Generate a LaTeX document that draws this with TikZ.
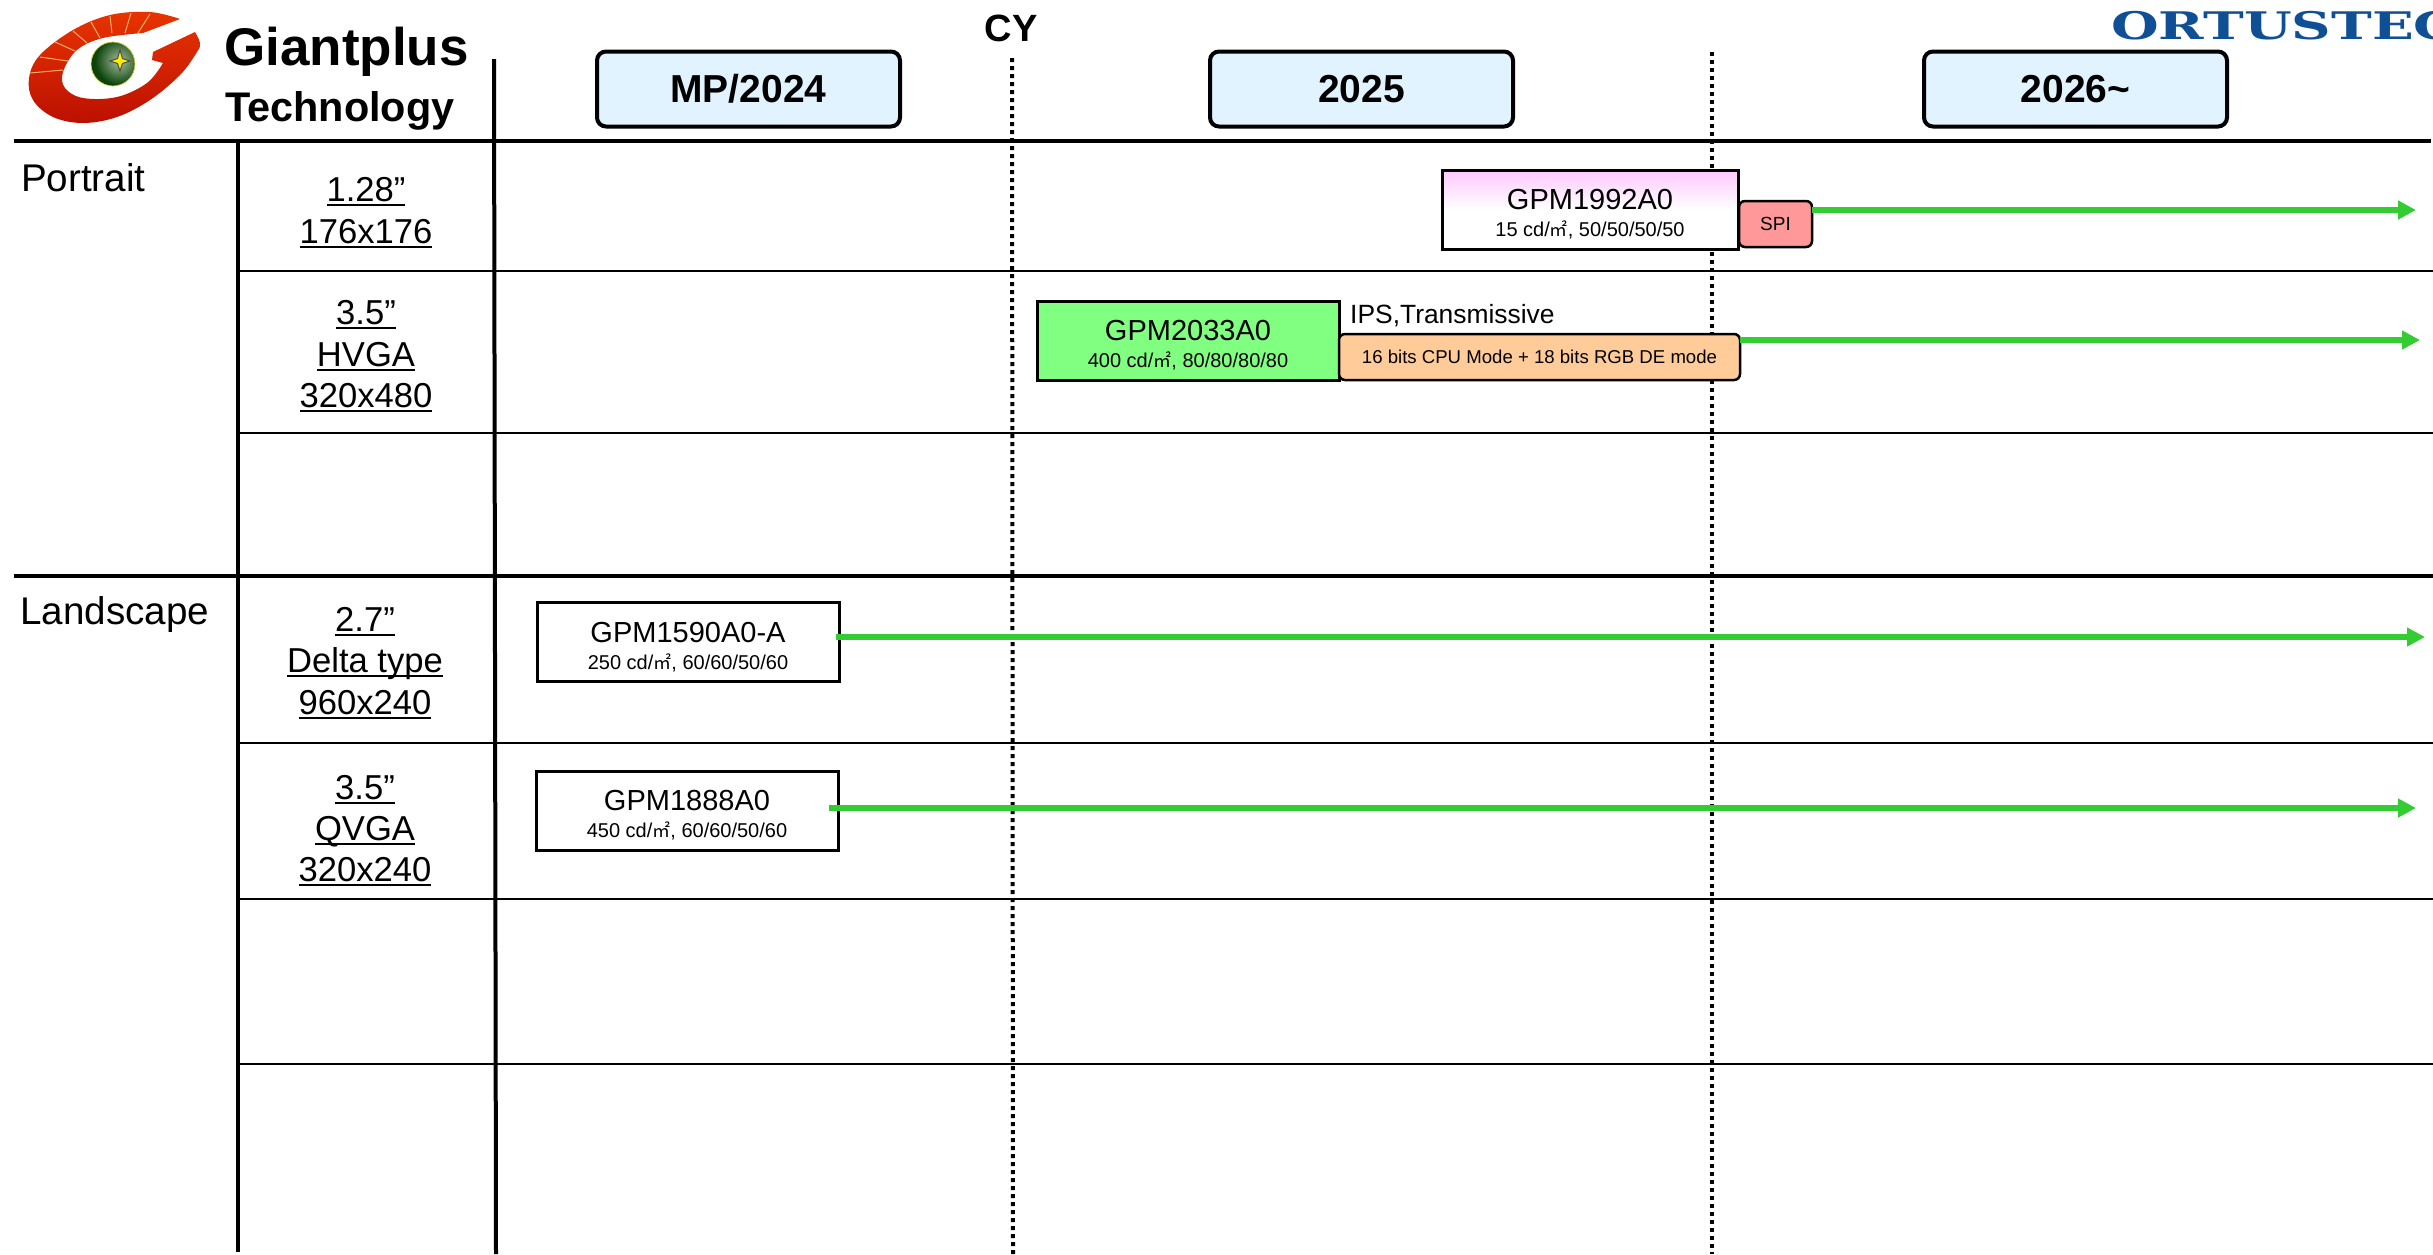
\documentclass[tikz,border=0pt]{standalone}
\usepackage{fontspec}
\setmainfont{Liberation Sans}
\newfontfamily\cjkf{Noto Sans CJK SC}
\newfontfamily\logofont{DejaVu Serif}
\usetikzlibrary{arrows.meta,calc}
\definecolor{hdrfill}{HTML}{E1F3FF}
\definecolor{grn}{HTML}{33CC33}
\definecolor{pinktop}{HTML}{FFC8FF}
\definecolor{grnfill}{HTML}{80FF80}
\definecolor{spifill}{HTML}{FF9999}
\definecolor{orgfill}{HTML}{FFCC99}
\definecolor{ortblue}{HTML}{0F4F96}
\definecolor{logolight}{HTML}{E83400}
\definecolor{logodark}{HTML}{BC1000}
\definecolor{rayc}{HTML}{FFB070}
\definecolor{ballin}{HTML}{A8BCA0}
\definecolor{ballout}{HTML}{0A440A}
\newcommand\fs[1]{\fontsize{#1}{#1}\selectfont}
\newcommand\ulx[1]{\setbox0=\hbox{#1}\hbox{\copy0\kern-\wd0\rule[-5pt]{\wd0}{1.8pt}}}
\newcommand\sqm{{\cjkf\fontsize{18}{18}\selectfont ㎡}}
\newcommand\prodtxt[2]{\rule{0pt}{30pt}{\fontsize{29}{27}\selectfont #1}\\{\fontsize{20}{27}\selectfont #2}}
\tikzset{
  hdrbox/.style={draw=black,line width=4pt,fill=hdrfill,rounded corners=9pt,minimum width=303pt,minimum height=75pt,inner sep=0pt,outer sep=0pt,font=\bfseries\fs{39}},
  prodbox/.style={draw=black,line width=3pt,align=center,minimum width=302pt,minimum height=79pt,inner sep=0pt,outer sep=0pt,font=\fontsize{20}{27}\selectfont},
  tagbox/.style={draw=black,line width=2.5pt,rounded corners=6pt,inner sep=0pt,outer sep=0pt},
  thick rule/.style={line width=4pt,black},
  thin rule/.style={line width=2.8pt,black},
  cy rule/.style={line width=4pt,black,dash pattern=on 4pt off 4pt},
  roadmap/.style={line width=6pt,grn,-{Triangle[length=18pt,width=18pt]}},
  celltxt/.style={anchor=base,inner sep=0pt,font=\fs{34.6}},
  sidetxt/.style={anchor=base west,inner sep=0pt,font=\fs{38.6}},
}
\begin{document}
\begin{tikzpicture}[x=1pt,y=-1pt]
\useasboundingbox (0,0) rectangle (2433,1254);
% grid
\draw[thick rule] (14,141) -- (2431,141);
\draw[thick rule] (14,576) -- (2433,576);
\foreach \yy in {271,433,743,899,1064}{\draw[thin rule] (236,\yy) -- (2433,\yy);}
\draw[thick rule] (238,141) -- (238,1252);
\draw[thick rule] (494,59) -- (496,1254);
% CY dotted lines
\coordinate (cya) at (1012,58);
\coordinate (cyb) at (1013,1254);
\coordinate (cyc) at (1712,52);
\coordinate (cyd) at (1712,1254);
\draw[cy rule] (cya) -- (cyb);
\draw[cy rule] (cyc) -- (cyd);
\node[anchor=base,inner sep=0pt,font=\bfseries\fs{38}] (cy) at (1011,41) {CY};
% logo
\shade[top color=logolight,bottom color=logodark]
  plot[smooth,tension=.6] coordinates {(180,19) (150,12) (110,15) (73,30) (40,55) (29,78) (33,100) (53,117) (83,123) (117,117) (150,100) (180,75) (197,52) (200,43) (195,32)}
  -- (153,52) -- (152,60) -- (163,63)
  -- plot[smooth,tension=.6] coordinates {(163,63) (147,83) (117,97) (83,98) (65,88) (63,72) (77,50) (103,38) (143,33)}
  -- cycle;
\foreach \xa/\ya/\xb/\yb in {30/73/63/70,40/57/68/61,55/42/75/51,73/31/87/43,91/22/100/38,110/16/112/33,131/13/125/33,150/14/138/33}
  {\draw[rayc,line width=1pt] (\xa,\ya) -- (\xb,\yb);}
\fill[ballout] (113,64) circle (22);
\begin{scope}
\clip (113,64) circle (22);
\shade[inner color=ballin,outer color=ballout] (119,61) circle (24);
\end{scope}
\draw[yellow!70!gray,line width=.7pt] (113,64) circle (22);
\draw[fill=yellow!95!orange,draw=black!70,line width=1pt] (120,50) -- (122.5,58.5) -- (130,61) -- (122.5,63.5) -- (120,71) -- (117.5,63.5) -- (110,61) -- (117.5,58.5) -- cycle;
\node[anchor=base west,inner sep=0pt,font=\bfseries\fs{53}] (gp) at (224,65) {Giantplus};
\node[anchor=base west,inner sep=0pt,font=\bfseries\fs{41.4}] (tech) at (225,121) {Technology};
% ORTUS logo text
\begin{scope}
\clip (2100,0) rectangle (2433,60);
\node[anchor=base west,inner sep=0pt,text=ortblue,font=\logofont\bfseries\fs{38}] (ort) at (2111,39.5) {\scalebox{1.44}[1]{ORTUSTEC}};
\end{scope}
% headers
\node[hdrbox] (h1) at (748.5,89) {MP/2024};
\node[hdrbox] (h2) at (1361.5,89) {2025};
\node[hdrbox] (h3) at (2075.5,89) {2026\textasciitilde};
% side labels
\node[sidetxt] (portrait) at (21,191) {Portrait};
\node[sidetxt] (landscape) at (20,624) {Landscape};
\node[celltxt] (a1) at (366,201) {\ulx{1.28”}};
\node[celltxt] (a2) at (366,243) {\ulx{176x176}};
\node[celltxt] (b1) at (366,324) {\ulx{3.5”}};
\node[celltxt] (b2) at (366,366) {\ulx{HVGA}};
\node[celltxt] (b3) at (366,407) {\ulx{320x480}};
\node[celltxt] (c1) at (365,631) {\ulx{2.7”}};
\node[celltxt] (c2) at (365,672) {\ulx{Delta type}};
\node[celltxt] (c3) at (365,714) {\ulx{960x240}};
\node[celltxt] (d1) at (365,799) {\ulx{3.5”}};
\node[celltxt] (d2) at (365,840) {\ulx{QVGA}};
\node[celltxt] (d3) at (365,881) {\ulx{320x240}};
% products
\node[prodbox,minimum width=296pt,top color=pinktop,bottom color=white,middle color=white] (p1992) at (1590,209.5) {\prodtxt{GPM1992A0}{15 cd/\sqm, 50/50/50/50}};
\node[tagbox,fill=spifill,minimum width=73pt,minimum height=46pt,font=\fs{19}] (spi) at (1775.5,224) {SPI};
\node[prodbox,fill=grnfill] (p2033) at (1188,340.5) {\prodtxt{GPM2033A0}{400 cd/\sqm, 80/80/80/80}};
\node[anchor=base west,inner sep=0pt,font=\fs{26.4}] (ips) at (1350,323) {IPS,Transmissive};
\node[tagbox,fill=orgfill,minimum width=401pt,minimum height=46pt,font=\fs{18.6}] (mode) at (1539.5,357) {16 bits CPU Mode + 18 bits RGB DE mode};
\node[prodbox] (p1590) at (688,642) {\prodtxt{GPM1590A0-A}{250 cd/\sqm, 60/60/50/60}};
\node[prodbox] (p1888) at (687,810.5) {\prodtxt{GPM1888A0}{450 cd/\sqm, 60/60/50/60}};
% arrows
\coordinate (e1) at (2416,210);
\coordinate (e2) at (2420,340);
\coordinate (e3) at (2425,637);
\coordinate (e4) at (2416,808);
\draw[roadmap] (spi.east |- e1) -- (e1);
\draw[roadmap] (mode.east |- e2) -- (e2);
\draw[roadmap] ([xshift=-3pt]p1590.east |- e3) -- (e3);
\draw[roadmap] ([xshift=-9pt]p1888.east |- e4) -- (e4);
\end{tikzpicture}
\end{document}
